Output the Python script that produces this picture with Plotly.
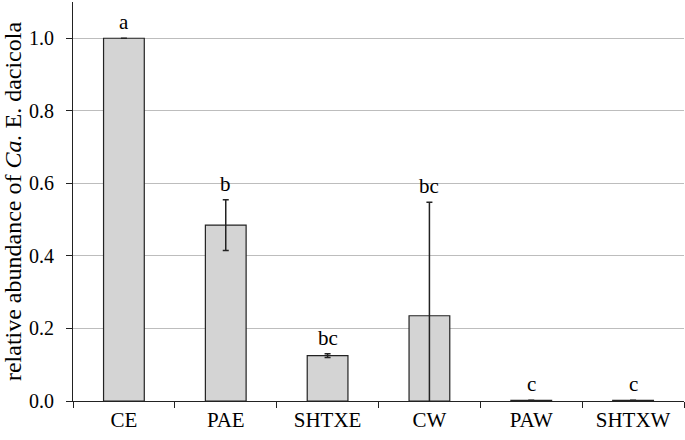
import plotly.graph_objects as go

categories = ["CE", "PAE", "SHTXE", "CW", "PAW", "SHTXW"]
values = [1.0, 0.485, 0.125, 0.235, 0.002, 0.002]
errors = [0.0, 0.07, 0.005, 0.313, 0.0, 0.0]
letters = ["a", "b", "bc", "bc", "c", "c"]

SERIF = "Liberation Serif"

fig = go.Figure()
fig.add_trace(go.Bar(
    x=categories, y=values, width=0.4,
    marker=dict(color="#d4d4d4", line=dict(color="#222222", width=1.2)),
    error_y=dict(type="data", array=errors, visible=True, color="#222222",
                 thickness=1.5, width=3),
))

for c, v, e, t in zip(categories, values, errors, letters):
    fig.add_annotation(x=c, y=v + e, text=t, showarrow=False,
                       yanchor="bottom", yshift=2,
                       font=dict(family=SERIF, size=21, color="black"))

fig.update_layout(
    width=685, height=440,
    margin=dict(l=73, r=1, t=2, b=39),
    plot_bgcolor="white", paper_bgcolor="white",
    showlegend=False,
    font=dict(family=SERIF, color="black"),
    bargap=0.6,
)
fig.update_xaxes(
    type="category", tickson="boundaries", ticks="outside", ticklen=6,
    tickcolor="#222222", showline=True, linecolor="#222222", linewidth=1.2,
    tickfont=dict(family=SERIF, size=21, color="black"), showgrid=False,
)
fig.update_yaxes(
    range=[0, 1.1], tickvals=[0, 0.2, 0.4, 0.6, 0.8, 1.0],
    ticktext=["0.0", "0.2", "0.4", "0.6", "0.8", "1.0"],
    ticks="outside", ticklen=6, tickcolor="#222222",
    showline=True, linecolor="#222222", linewidth=1.2,
    showgrid=True, gridcolor="#bdbdbd", gridwidth=1,
    tickfont=dict(family=SERIF, size=20, color="black"), zeroline=False,
    ticklabelstandoff=8,
    title=dict(text="relative abundance of <i>Ca.</i> E. dacicola",
               font=dict(family=SERIF, size=24, color="black"), standoff=0),
)
fig.write_html("out.html", config={"displayModeBar": False},
               post_script="document.body.style.margin='0';document.body.style.overflow='hidden';")
